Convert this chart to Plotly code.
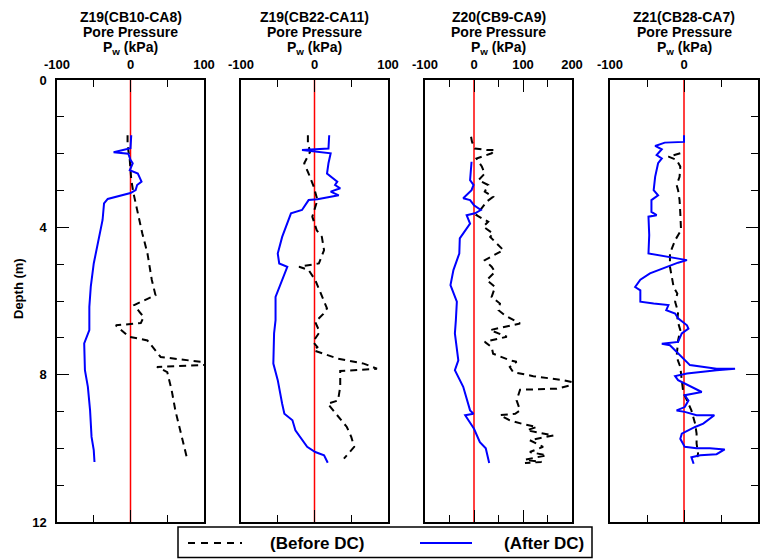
import plotly.graph_objects as go

# ---------------- data ----------------
panel_titles = ["Z19(CB10-CA8)", "Z19(CB22-CA11)", "Z20(CB9-CA9)", "Z21(CB28-CA7)"]
x_ranges = [[-100, 100], [-100, 100], [-100, 200], [-100, 100]]
x_tickvals = [[-100, 0, 100], [-100, 0, 100], [-100, 0, 100, 200], [-100, 0, 100]]
x_ticktext = [["-100", "0", "100"], ["-100", "0", "100"], ["-100", "0", "100", "200"], ["-100", "0", "100"]]
depth_tickvals = [0, 4, 8, 12]

# Panel 1  Z19(CB10-CA8)
p1_before_depth = [1.5, 1.77, 2.17, 2.7, 3.07, 3.53, 4.16, 4.7, 5.43, 5.84, 6.11, 6.34, 6.43, 6.6, 6.66,
                   6.97, 7.07, 7.52, 7.65, 7.7, 7.79, 7.93, 8.42, 8.97, 9.51, 9.87, 10.28]
p1_before_pw = [-4, -4, -1, 1, 4, 9, 16, 23, 29, 34, 5, 14, 18, 14, -20,
                -2, 23, 41, 95, 146, 36, 50, 56, 61, 68, 72, 77]
p1_after_depth = [1.5, 1.85, 1.96, 2.0, 2.17, 2.26, 2.45, 2.54, 2.76, 2.85, 2.99, 3.07, 3.23, 3.35, 3.8,
                  4.08, 4.53, 4.98, 5.6, 6.16, 6.52, 6.79, 7.15, 7.88, 8.33, 8.97, 9.69, 10.05, 10.37]
p1_after_pw = [1, 0, -23, -3, 0, 3, -1, 10, 15, 9, 7, 0, -31, -36, -38,
               -41, -45, -50, -54, -56, -56, -56, -63, -62, -58, -55, -53, -50, -49]

# Panel 2  Z19(CB22-CA11)
p2_before_depth = [1.5, 1.72, 1.95, 2.26, 2.54, 2.9, 3.26, 3.71, 4.08, 4.26, 4.62, 4.98, 5.07, 5.16, 5.43,
                   5.89, 6.2, 6.35, 6.57, 6.84, 7.11, 7.25, 7.34, 7.56, 7.7, 7.84, 7.9, 8.33, 8.7, 8.79,
                   9.15, 9.42, 9.69, 9.96, 10.28]
p2_before_pw = [-9, -9, -6, -14, -8, -1, 4, -3, 3, 10, 13, 6, -21, -8, 1,
                10, 17, 12, 1, 7, -2, 4, -1, 31, 67, 85, 35, 35, 32, 18,
                33, 44, 50, 54, 40]
p2_after_depth = [1.5, 1.86, 1.9, 1.99, 2.26, 2.54, 2.76, 2.85, 2.94, 3.03, 3.13, 3.24, 3.26, 3.53, 3.62,
                  3.9, 4.26, 4.71, 4.98, 5.07, 5.52, 5.89, 6.52, 6.88, 7.7, 8.15, 8.79, 9.06, 9.24, 9.51,
                  9.96, 10.1, 10.19, 10.39]
p2_after_pw = [20, 19, -17, 22, 19, 17, 31, 28, 35, 22, 33, 4, -8, -17, -32,
               -37, -44, -50, -48, -37, -46, -53, -53, -55, -56, -50, -44, -41, -30, -26,
               -10, 1, 13, 18]

# Panel 3  Z20(CB9-CA9)
p3_before_depth = [1.54, 1.68, 1.86, 1.9, 1.9, 1.99, 2.13, 2.35, 2.54, 2.72, 2.85, 3.03, 3.17, 3.3, 3.67,
                   3.85, 3.98, 4.17, 4.26, 4.62, 4.89, 5.07, 5.21, 5.43, 5.62, 5.89, 6.07, 6.25, 6.39, 6.61,
                   6.79, 6.97, 7.11, 7.25, 7.43, 7.61, 7.65, 7.79, 7.93, 8.04, 8.15, 8.24, 8.38, 8.41, 8.7,
                   8.97, 9.06, 9.1, 9.24, 9.33, 9.42, 9.51, 9.65, 9.78, 9.96, 10.1, 10.19, 10.31, 10.37, 10.4]
p3_before_pw = [-6, -4, 2, 26, 43, 36, 5, 16, 22, 9, 29, 22, 39, 26, 5,
                29, 19, 39, 33, 60, 22, 36, 43, 26, 43, 36, 53, 50, 63, 94,
                33, 67, 22, 36, 39, 73, 87, 73, 80, 121, 182, 213, 169, 94, 87,
                94, 84, 53, 73, 97, 128, 108, 162, 114, 141, 114, 148, 104, 138, 104]
p3_after_depth = [2.22, 2.72, 2.85, 2.99, 3.21, 3.26, 3.4, 3.53, 3.62, 3.67, 3.9, 4.3, 4.71, 5.16, 5.57,
                  6.02, 6.52, 6.88, 7.61, 7.88, 8.33, 8.97, 9.06, 9.1, 9.47, 9.83, 10.0, 10.4]
p3_after_pw = [-5, -8, -1, -5, -22, -8, 0, 14, 2, -15, -8, -29, -30, -42, -48,
               -35, -37, -39, -32, -39, -22, -8, -1, -18, 0, 12, 24, 31]

# Panel 4  Z21(CB28-CA7)
p4_before_depth = [1.99, 2.08, 2.17, 2.35, 2.63, 2.85, 2.99, 3.26, 3.62, 4.08, 4.35, 4.71, 5.07, 5.62, 5.8,
                   6.02, 6.3, 6.52, 6.79, 7.07, 7.52, 7.79, 8.15, 8.47, 8.79, 8.97, 9.33, 9.6, 9.87, 10.14,
                   10.24]
p4_before_pw = [-5, -21, -10, -5, -6, -10, -8, -6, -5, -4, -12, -19, -19, -14, -9,
                -12, -8, -9, -5, -8, -10, -5, -3, -1, 6, 10, 15, 17, 17, 19,
                18]
p4_after_depth = [1.5, 1.68, 1.7, 1.79, 1.88, 2.04, 2.13, 2.26, 2.63, 2.99, 3.13, 3.26, 3.58, 3.67, 3.71,
                  4.21, 4.71, 4.8, 4.89, 4.96, 5.11, 5.25, 5.42, 5.62, 5.71, 6.02, 6.07, 6.11, 6.25, 6.34,
                  6.47, 6.66, 6.75, 6.88, 7.11, 7.16, 7.2, 7.47, 7.65, 7.74, 7.84, 7.84, 7.88, 7.97, 8.04,
                  8.15, 8.47, 8.56, 8.7, 8.88, 8.97, 9.01, 9.1, 9.1, 9.1, 9.33, 9.42, 9.6, 9.74, 9.96,
                  10.0, 10.0, 10.03, 10.16, 10.19, 10.24, 10.42]
p4_after_pw = [0, 0, -26, -39, -30, -37, -30, -35, -39, -41, -35, -44, -44, -37, -48,
               -47, -48, -19, 4, -8, -28, -46, -59, -66, -59, -59, -41, -21, -24, -12,
               -8, 4, 6, -3, -8, -30, -19, -5, 4, 8, 44, 69, 44, 4, -12,
               -8, 24, 1, 6, 1, -10, 1, 17, 31, 41, 26, 15, -3, -5, 1,
               17, 35, 55, 44, 22, 10, 13]

before_depths = [p1_before_depth, p2_before_depth, p3_before_depth, p4_before_depth]
before_pws = [p1_before_pw, p2_before_pw, p3_before_pw, p4_before_pw]
after_depths = [p1_after_depth, p2_after_depth, p3_after_depth, p4_after_depth]
after_pws = [p1_after_pw, p2_after_pw, p3_after_pw, p4_after_pw]
legend_labels = ["(Before DC)", "(After DC)"]

# ---------------- layout helpers (pixel geometry) ----------------
W, H = 768, 559
def px(x):
    return x / W
def py(y):
    return 1 - y / H

panel_px = [(57, 204), (241, 388), (425, 572), (610, 758)]
y_top, y_bot = 80, 522
FONT = "Liberation Sans, Arial, sans-serif"

fig = go.Figure()
for i in range(4):
    xa = "x" if i == 0 else f"x{i+1}"
    ya = "y" if i == 0 else f"y{i+1}"
    fig.add_trace(go.Scatter(x=before_pws[i], y=before_depths[i], mode="lines",
                             line=dict(color="black", width=2, dash="7px,5px"),
                             xaxis=xa, yaxis=ya, showlegend=False, name=legend_labels[0]))
    fig.add_trace(go.Scatter(x=after_pws[i], y=after_depths[i], mode="lines",
                             line=dict(color="#0000ff", width=2),
                             xaxis=xa, yaxis=ya, showlegend=False, name=legend_labels[1]))
    # zero reference line
    fig.add_shape(type="line", xref=xa, yref=ya, x0=0, x1=0, y0=0, y1=12,
                  line=dict(color="red", width=1.5), layer="below")

layout = dict(width=W, height=H, margin=dict(l=0, r=0, t=0, b=0, autoexpand=False),
              paper_bgcolor="white", plot_bgcolor="white", showlegend=False)

annotations = []
for i in range(4):
    x0, x1 = panel_px[i]
    xkey = "xaxis" if i == 0 else f"xaxis{i+1}"
    ykey = "yaxis" if i == 0 else f"yaxis{i+1}"
    yanchor_name = "y" if i == 0 else f"y{i+1}"
    xanchor_name = "x" if i == 0 else f"x{i+1}"
    layout[xkey] = dict(domain=[px(x0), px(x1)], range=x_ranges[i], side="top",
                        anchor=yanchor_name, tickvals=x_tickvals[i], ticktext=x_ticktext[i],
                        ticks="inside", ticklen=12, tickwidth=1, tickcolor="black",
                        minor=dict(dtick=50, tick0=0, ticks="inside", ticklen=7, tickcolor="black"),
                        showline=True, linecolor="black", linewidth=1.5, mirror="ticks",
                        showgrid=False, zeroline=False, ticklabelstandoff=4, automargin=False,
                        tickfont=dict(family=FONT, size=13, color="black", weight="bold"))
    yax = dict(domain=[py(y_bot), py(y_top)], range=[12, 0], anchor=xanchor_name,
               showline=True, linecolor="black", linewidth=1.5, mirror=True,
               showgrid=False, zeroline=False, automargin=False)
    if i == 0:
        yax.update(tickvals=depth_tickvals, ticks="inside", ticklen=12, tickcolor="black",
                   minor=dict(dtick=1, tick0=0, ticks="inside", ticklen=7, tickcolor="black"),
                   ticklabelstandoff=6,
                   tickfont=dict(family=FONT, size=13, color="black", weight="bold"))
    elif i == 3:
        yax.update(side="right", tickvals=depth_tickvals, ticks="inside", ticklen=12,
                   tickcolor="black", showticklabels=False,
                   minor=dict(dtick=1, tick0=0, ticks="inside", ticklen=7, tickcolor="black"))
    else:
        yax.update(ticks="", showticklabels=False)
    layout[ykey] = yax

    cx = px((x0 + x1) / 2)
    for text, yy in [(f"<b>{panel_titles[i]}</b>", 16.5), ("<b>Pore Pressure</b>", 32.5),
                     ("<b>P<sub>w</sub> (kPa)</b>", 48.5)]:
        annotations.append(dict(text=text, xref="paper", yref="paper", x=cx, y=py(yy),
                                xanchor="center", yanchor="middle", showarrow=False, borderpad=0,
                                font=dict(family=FONT, size=14, color="black")))

annotations.append(dict(text="<b>Depth (m)</b>", xref="paper", yref="paper", x=px(19), y=py(289),
                        textangle=-90, xanchor="center", yanchor="middle", showarrow=False,
                        font=dict(family=FONT, size=13, color="black")))

# manual legend box
shapes = list(fig.layout.shapes)
shapes.append(dict(type="rect", xref="paper", yref="paper", x0=px(178), x1=px(592),
                   y0=py(557.5), y1=py(527), line=dict(color="black", width=1.5),
                   fillcolor="white"))
shapes.append(dict(type="line", xref="paper", yref="paper", x0=px(188), x1=px(242),
                   y0=py(543), y1=py(543), line=dict(color="black", width=2, dash="7px,6px")))
shapes.append(dict(type="line", xref="paper", yref="paper", x0=px(420), x1=px(472),
                   y0=py(543), y1=py(543), line=dict(color="#0000ff", width=2)))
annotations.append(dict(text=f"<b>{legend_labels[0]}</b>", xref="paper", yref="paper",
                        x=px(268), y=py(543), xanchor="left", yanchor="middle", showarrow=False,
                        font=dict(family=FONT, size=17, color="black")))
annotations.append(dict(text=f"<b>{legend_labels[1]}</b>", xref="paper", yref="paper",
                        x=px(586), y=py(543), xanchor="right", yanchor="middle", showarrow=False,
                        font=dict(family=FONT, size=17, color="black")))

layout["annotations"] = annotations
fig.update_layout(**layout)
fig.update_layout(shapes=shapes)
fig.write_html("out.html")
